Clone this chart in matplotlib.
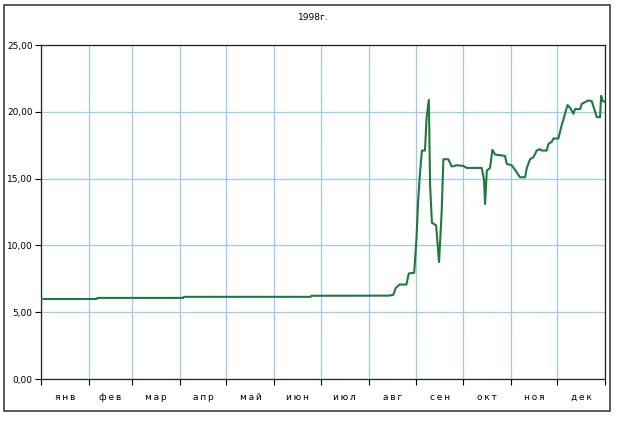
import numpy as np
import matplotlib
matplotlib.use("Agg")
import matplotlib.pyplot as plt
from matplotlib.patches import Rectangle
from matplotlib.ticker import FuncFormatter

title = "1998г."
months = ["янв", "фев", "мар", "апр", "май", "июн",
          "июл", "авг", "сен", "окт", "ноя", "дек"]
month_starts = [0, 31, 59, 90, 120, 151, 181, 212, 243, 273, 304, 334, 365]
yticks = [0, 5, 10, 15, 20, 25]

# day of year vs rate
days = [0, 36, 36.5, 92, 92.5, 174.5, 175, 225, 228, 229.5, 232, 236.5, 238,
        241.5, 243, 244, 245, 246.5, 248.5, 249.5, 251, 251.8, 253, 255.7,
        257.6, 259.3, 260.4, 263.6, 265.8, 269, 273.3, 275.5, 285.2, 286.7,
        287.4, 288.5, 290.6, 292.1, 293.9, 300.3, 301.4, 304.6, 306.8, 310,
        313.3, 314.4, 316.5, 318.7, 320.8, 323, 324, 327.3, 328.4, 330.5,
        331.6, 334.8, 337, 338.5, 340.7, 342.4, 344.6, 345.6, 348.9, 350,
        354.2, 356.4, 358.6, 359.7, 361.8, 362.5, 363.6, 365]
rate = [5.99, 5.99, 6.07, 6.07, 6.15, 6.15, 6.23, 6.24, 6.3, 6.8, 7.07, 7.07,
        7.9, 7.95, 10.5, 13.2, 15.0, 17.1, 17.1, 19.5, 20.9, 14.5, 11.7, 11.5,
        8.75, 12.5, 16.45, 16.45, 15.9, 16.0, 15.95, 15.8, 15.8, 14.9,
        13.1, 15.6, 15.8, 17.15, 16.8, 16.7, 16.1, 16.0, 15.65, 15.1,
        15.1, 15.8, 16.45, 16.6, 17.1, 17.2, 17.1, 17.1, 17.6, 17.75,
        18.0, 18.0, 19.0, 19.6, 20.5, 20.3, 19.85, 20.2, 20.2, 20.6,
        20.85, 20.8, 20.0, 19.6, 19.6, 21.2, 20.8, 20.75]

fig = plt.figure(figsize=(6.23, 4.21), dpi=100)
fig.patches.append(Rectangle((4 / 623, 1 - 411 / 421), 606 / 623, 406 / 421,
                             transform=fig.transFigure, fill=False,
                             edgecolor="#404040", linewidth=1.2))
ax = fig.add_axes([41 / 623, 1 - 379 / 421, 564 / 623, 334 / 421])

ax.plot(days, rate, color="#1e7a3c", linewidth=1.5, zorder=3)

ax.set_xlim(0, 365)
ax.set_ylim(0, 25)
ax.set_yticks(yticks)
ax.yaxis.set_major_formatter(FuncFormatter(lambda v, p: f"{v:.2f}".replace(".", ",")))
ax.set_xticks(month_starts)
ax.set_xticklabels([])
mids = [(month_starts[i] + month_starts[i + 1]) / 2 for i in range(12)]
ax.set_xticks(mids, minor=True)
ax.set_xticklabels(["\u2009".join(m) for m in months], minor=True)
ax.tick_params(axis="x", which="minor", length=0, pad=10, labelsize=6.5)
ax.tick_params(axis="x", which="major", length=4, width=0.8)
ax.tick_params(axis="y", length=4, width=0.8, labelsize=6.5, pad=2)

ax.grid(True, which="major", color="#9cc8f4", linewidth=0.9, zorder=0)
for s in ax.spines.values():
    s.set_color("#222222")
    s.set_linewidth(0.9)

fig.text(313 / 623, 1 - 17 / 421, title, ha="center", va="center", fontsize=6.5)

fig.savefig("out.png", dpi=100)
